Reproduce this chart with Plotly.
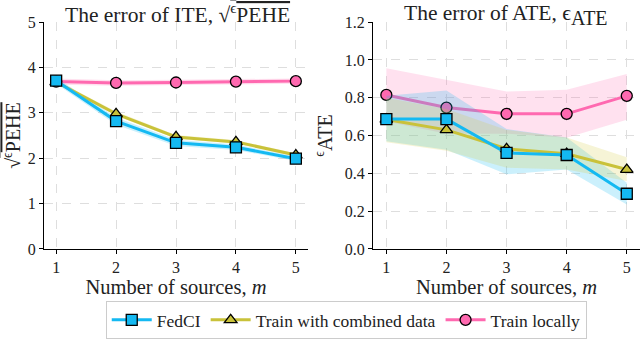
import plotly.graph_objects as go
from plotly.subplots import make_subplots

# number of sources
m = [1, 2, 3, 4, 5]

# error of ITE (sqrt PEHE)
ite_fedci = [3.71, 2.82, 2.34, 2.24, 1.99]
ite_fedci_lo = [3.64, 2.74, 2.27, 2.18, 1.94]
ite_fedci_hi = [3.78, 2.90, 2.41, 2.30, 2.04]
ite_comb = [3.68, 2.98, 2.47, 2.36, 2.07]
ite_comb_lo = [3.64, 2.94, 2.43, 2.32, 2.04]
ite_comb_hi = [3.72, 3.03, 2.51, 2.40, 2.11]
ite_local = [3.69, 3.66, 3.67, 3.69, 3.70]
ite_local_lo = [3.62, 3.60, 3.61, 3.63, 3.64]
ite_local_hi = [3.76, 3.72, 3.73, 3.75, 3.76]

# error of ATE
ate_fedci = [0.687, 0.687, 0.508, 0.497, 0.292]
ate_fedci_lo = [0.57, 0.525, 0.395, 0.42, 0.235]
ate_fedci_hi = [0.81, 0.838, 0.635, 0.59, 0.35]
ate_comb = [0.685, 0.63, 0.53, 0.504, 0.42]
ate_comb_lo = [0.565, 0.52, 0.43, 0.42, 0.36]
ate_comb_hi = [0.80, 0.74, 0.63, 0.59, 0.485]
ate_local = [0.815, 0.748, 0.715, 0.715, 0.81]
ate_local_lo = [0.675, 0.61, 0.61, 0.588, 0.683]
ate_local_hi = [0.956, 0.894, 0.833, 0.842, 0.926]

BLUE = '#14b9f2'
OLIVE = '#c9c23a'
PINK = '#ff69b0'
FONT = 'Liberation Serif'
TXT = '#222'

series = {
    'local': dict(name='Train locally', color=PINK, band='rgba(255,105,176,0.20)', symbol='circle'),
    'comb': dict(name='Train with combined data', color=OLIVE, band='rgba(215,205,70,0.22)', symbol='triangle-up'),
    'fedci': dict(name='FedCI', color=BLUE, band='rgba(20,185,242,0.22)', symbol='square'),
}

fig = make_subplots(rows=1, cols=2)

panels = [
    (1, {'local': (ite_local, ite_local_lo, ite_local_hi),
         'comb': (ite_comb, ite_comb_lo, ite_comb_hi),
         'fedci': (ite_fedci, ite_fedci_lo, ite_fedci_hi)}),
    (2, {'local': (ate_local, ate_local_lo, ate_local_hi),
         'comb': (ate_comb, ate_comb_lo, ate_comb_hi),
         'fedci': (ate_fedci, ate_fedci_lo, ate_fedci_hi)}),
]


def add_band(col, key, lo, hi):
    s = series[key]
    fig.add_trace(go.Scatter(
        x=m + m[::-1], y=hi + lo[::-1], fill='toself', fillcolor=s['band'],
        line=dict(width=0), mode='lines', hoverinfo='skip', showlegend=False
    ), row=1, col=col)


def add_line(col, key, y):
    s = series[key]
    fig.add_trace(go.Scatter(
        x=m, y=y, mode='lines+markers', name=s['name'],
        line=dict(color=s['color'], width=3),
        marker=dict(symbol=s['symbol'], size=11, color=s['color'],
                    line=dict(color='black', width=1.3)),
        legendrank={'fedci': 1, 'comb': 2, 'local': 3}[key],
        showlegend=(col == 1), cliponaxis=False
    ), row=1, col=col)


for col, d in panels:
    add_band(col, 'local', d['local'][1], d['local'][2])
    add_line(col, 'local', d['local'][0])
    add_band(col, 'fedci', d['fedci'][1], d['fedci'][2])
    add_band(col, 'comb', d['comb'][1], d['comb'][2])
    add_line(col, 'comb', d['comb'][0])
    add_line(col, 'fedci', d['fedci'][0])

axis_common = dict(
    showline=True, linecolor='black', linewidth=1.3, mirror=False,
    ticks='outside', ticklen=4, tickcolor='black', tickwidth=1,
    showgrid=True, gridcolor='#dedede', griddash='dash', gridwidth=0.8,
    zeroline=False, automargin=False,
    tickfont=dict(family=FONT, size=16, color=TXT),
)

fig.update_xaxes(axis_common)
fig.update_yaxes(axis_common)

xtitle = dict(text='Number of sources, <i>m</i>', font=dict(family=FONT, size=20.5, color=TXT), standoff=2)
fig.update_xaxes(domain=[0.069, 0.481], range=[0.8, 5.2], tickvals=m, title=xtitle, row=1, col=1)
fig.update_xaxes(domain=[0.583, 1.0], range=[0.78, 5.22], tickvals=m, title=xtitle, row=1, col=2)
fig.update_yaxes(domain=[0.27, 0.935], range=[0, 5], tickvals=[0, 1, 2, 3, 4, 5],
                 title=dict(text="√<span style='text-decoration:overline'><sup>ϵ</sup>PEHE</span>",
                            font=dict(family=FONT, size=20, color=TXT), standoff=6),
                 row=1, col=1)
fig.update_yaxes(domain=[0.27, 0.935], range=[0, 1.2], tickvals=[0, 0.2, 0.4, 0.6, 0.8, 1.0, 1.2],
                 tickformat='.1f',
                 title=dict(text="<sup>ϵ</sup>ATE", font=dict(family=FONT, size=20, color=TXT), standoff=6),
                 row=1, col=2)

fig.add_annotation(text="The error of ITE, √<span style='text-decoration:overline'><sup>ϵ</sup>PEHE</span>",
                   x=0.278, y=0.96, xref='paper', yref='paper', xanchor='center', yanchor='middle',
                   showarrow=False, font=dict(family=FONT, size=21.5, color=TXT))
fig.add_annotation(text="The error of ATE, ϵ<sub><span style='font-size:20px'>ATE</span></sub>",
                   x=0.791, y=0.955, xref='paper', yref='paper', xanchor='center', yanchor='middle',
                   showarrow=False, font=dict(family=FONT, size=21.5, color=TXT))

fig.update_layout(
    width=640, height=341,
    margin=dict(l=0, r=0, t=0, b=0),
    plot_bgcolor='white', paper_bgcolor='white',
    font=dict(family=FONT, color=TXT),
    legend=dict(orientation='h', x=0.541, y=0.006, xanchor='center', yanchor='bottom',
                bordercolor='#cccccc', borderwidth=1, bgcolor='white',
                font=dict(family=FONT, size=17.5, color=TXT),
                itemwidth=40, tracegroupgap=0),
)

fig.write_html("out.html", config={'displayModeBar': False},
               post_script="document.body.style.margin='0';")
